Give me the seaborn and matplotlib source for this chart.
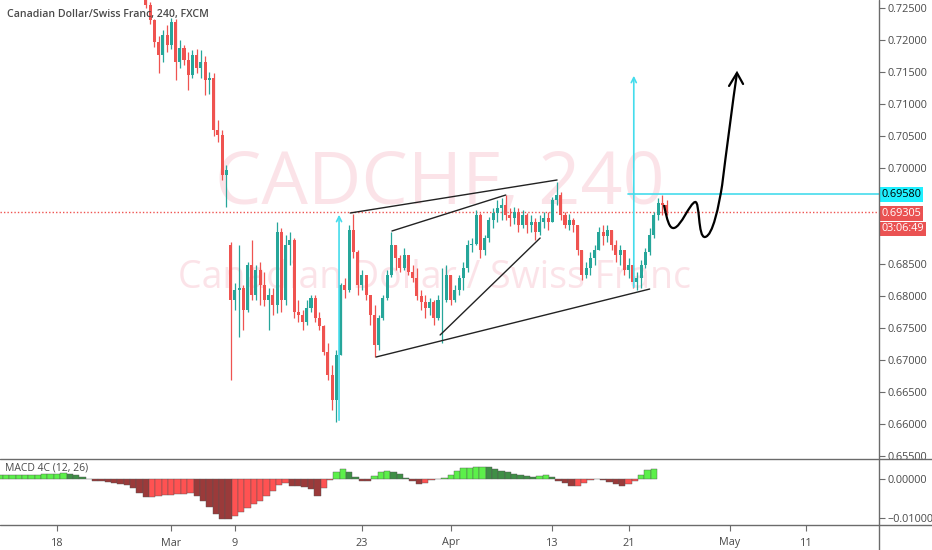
import numpy as np
import pandas as pd
import matplotlib
matplotlib.use('Agg')
import matplotlib.pyplot as plt
import seaborn as sns
from matplotlib.path import Path
from matplotlib.patches import PathPatch

sns.set_theme(style='white')
plt.rcParams['font.family'] = ['Open Sans', 'DejaVu Sans']

# ---- data: CADCHF 8h candles, first one on 2020-02-27 ----
first_open = 0.7270
gap_index = 20          # Monday 9 March opens with a gap
gap_open = 0.6879
closes = [
    0.7254, 0.7230, 0.7196, 0.7176, 0.7207, 0.7191, 0.7227, 0.7165, 0.7187, 0.7168,
    0.7145, 0.7176, 0.7155, 0.7165, 0.7137, 0.7140, 0.7059, 0.7051, 0.6988, 0.6996,
    0.6793, 0.6809, 0.6812, 0.6777, 0.6848, 0.6801, 0.6840, 0.6816, 0.6793, 0.6801,
    0.6785, 0.6899, 0.6793, 0.6879, 0.6887, 0.6774, 0.6770, 0.6759, 0.6780, 0.6796,
    0.6765, 0.6752, 0.6712, 0.6676, 0.6637, 0.6707, 0.6816, 0.6809, 0.6902, 0.6868,
    0.6816, 0.6832, 0.6801, 0.6770, 0.6723, 0.6765, 0.6796, 0.6832, 0.6879, 0.6859,
    0.6843, 0.6863, 0.6837, 0.6827, 0.6799, 0.6790, 0.6780, 0.6790, 0.6765, 0.6793,
    0.6793, 0.6832, 0.6793, 0.6809, 0.6827, 0.6843, 0.6879, 0.6880, 0.6926, 0.6871,
    0.6890, 0.6918, 0.6929, 0.6937, 0.6941, 0.6926, 0.6921, 0.6930, 0.6910, 0.6926,
    0.6910, 0.6915, 0.6899, 0.6915, 0.6921, 0.6915, 0.6949, 0.6957, 0.6926, 0.6910,
    0.6918, 0.6910, 0.6871, 0.6832, 0.6843, 0.6859, 0.6871, 0.6899, 0.6893, 0.6902,
    0.6879, 0.6863, 0.6871, 0.6840, 0.6848, 0.6821, 0.6827, 0.6848, 0.6868, 0.6895,
    0.6926, 0.6944, 0.6941, 0.6930,
]
highs = [
    0.7277, 0.7258, 0.7232, 0.7205, 0.7215, 0.7223, 0.7234, 0.7232, 0.7200, 0.7191,
    0.7180, 0.7184, 0.7185, 0.7184, 0.7175, 0.7150, 0.7148, 0.7074, 0.7058, 0.7004,
    0.6884, 0.6820, 0.6879, 0.6816, 0.6852, 0.6887, 0.6848, 0.6852, 0.6837, 0.6812,
    0.6812, 0.6915, 0.6906, 0.6895, 0.6899, 0.6890, 0.6793, 0.6777, 0.6793, 0.6801,
    0.6801, 0.6774, 0.6754, 0.6726, 0.6691, 0.6715, 0.6820, 0.6827, 0.6910, 0.6927,
    0.6871, 0.6840, 0.6832, 0.6796, 0.6785, 0.6770, 0.6801, 0.6840, 0.6899, 0.6879,
    0.6863, 0.6874, 0.6859, 0.6848, 0.6843, 0.6809, 0.6801, 0.6796, 0.6793, 0.6801,
    0.6843, 0.6848, 0.6824, 0.6816, 0.6832, 0.6852, 0.6887, 0.6890, 0.6934, 0.6929,
    0.6895, 0.6923, 0.6937, 0.6949, 0.6952, 0.6957, 0.6937, 0.6938, 0.6937, 0.6934,
    0.6929, 0.6926, 0.6921, 0.6926, 0.6930, 0.6930, 0.6954, 0.6977, 0.6962, 0.6930,
    0.6927, 0.6921, 0.6910, 0.6871, 0.6852, 0.6868, 0.6879, 0.6907, 0.6910, 0.6910,
    0.6902, 0.6887, 0.6879, 0.6863, 0.6859, 0.6843, 0.6837, 0.6855, 0.6874, 0.6906,
    0.6930, 0.6952, 0.6957, 0.6949,
]
lows = [
    0.7249, 0.7225, 0.7188, 0.7148, 0.7165, 0.7180, 0.7185, 0.7137, 0.7155, 0.7160,
    0.7121, 0.7140, 0.7148, 0.7140, 0.7113, 0.7115, 0.7050, 0.7040, 0.6980, 0.6938,
    0.6668, 0.6777, 0.6735, 0.6746, 0.6774, 0.6793, 0.6793, 0.6785, 0.6784, 0.6746,
    0.6770, 0.6773, 0.6774, 0.6785, 0.6848, 0.6765, 0.6759, 0.6746, 0.6754, 0.6774,
    0.6759, 0.6746, 0.6707, 0.6668, 0.6621, 0.6602, 0.6712, 0.6796, 0.6805, 0.6859,
    0.6801, 0.6809, 0.6793, 0.6754, 0.6704, 0.6715, 0.6762, 0.6793, 0.6829, 0.6840,
    0.6837, 0.6840, 0.6832, 0.6821, 0.6793, 0.6777, 0.6765, 0.6770, 0.6754, 0.6762,
    0.6726, 0.6790, 0.6785, 0.6790, 0.6801, 0.6809, 0.6837, 0.6868, 0.6879, 0.6859,
    0.6863, 0.6884, 0.6906, 0.6915, 0.6918, 0.6918, 0.6909, 0.6912, 0.6899, 0.6906,
    0.6898, 0.6899, 0.6887, 0.6895, 0.6906, 0.6902, 0.6915, 0.6941, 0.6918, 0.6906,
    0.6902, 0.6899, 0.6863, 0.6824, 0.6827, 0.6832, 0.6848, 0.6871, 0.6879, 0.6884,
    0.6871, 0.6852, 0.6848, 0.6832, 0.6827, 0.6812, 0.6809, 0.6812, 0.6843, 0.6863,
    0.6890, 0.6918, 0.6926, 0.6926,
]

# MACD 4C columns, one per 12h, starting 2020-02-11 noon
macd_hist = [
    0.0005, 0.0006, 0.0008, 0.0009, 0.0009, 0.0010, 0.0010, 0.0010, 0.0010, 0.0011,
    0.0012, 0.0013, 0.0014, 0.0013, 0.0010, 0.0004, -0.0002, -0.0005, -0.0007, -0.0009,
    -0.0012, -0.0014, -0.0017, -0.0024, -0.0036, -0.0048, -0.0046, -0.0044, -0.0042, -0.0041,
    -0.0040, -0.0039, -0.0037, -0.0045, -0.0056, -0.0072, -0.0090, -0.0102, -0.0104, -0.0096,
    -0.0086, -0.0076, -0.0066, -0.0056, -0.0045, -0.0032, -0.0016, -0.0012, -0.0018, -0.0019,
    -0.0021, -0.0027, -0.0044, -0.0025, -0.0004, 0.0018, 0.0025, 0.0016, 0.0005, -0.0005,
    -0.0006, 0.0006, 0.0016, 0.0019, 0.0018, 0.0011, 0.0002, -0.0007, -0.0013, -0.0010,
    -0.0004, -0.0002, 0.0002, 0.0010, 0.0020, 0.0027, 0.0028, 0.0029, 0.0030, 0.0029,
    0.0025, 0.0020, 0.0016, 0.0012, 0.0009, 0.0007, 0.0005, 0.0006, 0.0010, 0.0004,
    -0.0005, -0.0012, -0.0019, -0.0019, -0.0011, -0.0004, -0.0002, -0.0003, -0.0009, -0.0015,
    -0.0018, -0.0013, -0.0005, 0.0010, 0.0022, 0.0024,
]

tick_dates = ['2020-02-18', '2020-03-02', '2020-03-09', '2020-03-23', '2020-04-01',
              '2020-04-13', '2020-04-21', '2020-05-01', '2020-05-11']
tick_labels = ['18', 'Mar', '9', '23', 'Apr', '13', '21', 'May', '11']
price_ticks = np.arange(0.655, 0.7251, 0.005)
hidden_ticks = [0.690, 0.695]     # covered by the price labels
macd_ticks = [0.0, -0.01]

last_price = 0.69305
target_price = 0.69580
countdown = '03:06:49'

# hand drawn trend lines: (date, price) pairs
channel_top = [('2020-03-20 02:00', 0.69289), ('2020-04-13 09:00', 0.69805)]
channel_bottom = [('2020-03-24 03:00', 0.67039), ('2020-04-22 16:00', 0.68101)]
inner_top = [('2020-03-25 09:00', 0.69008), ('2020-04-07 08:00', 0.69570)]
inner_bottom = [('2020-03-31 04:00', 0.67383), ('2020-04-10 01:00', 0.68898)]
arrow_left = ('2020-03-19 05:00', 0.66008, 0.69305)
arrow_right = ('2020-04-21 10:00', 0.68086, 0.71477)
target_start = '2020-04-20 23:00'
# projected path (bezier anchors)
projection = [('2020-04-23 19:00', 0.69414), ('2020-04-24 01:00', 0.69180), ('2020-04-24 05:00', 0.69039),
              ('2020-04-24 14:00', 0.69055), ('2020-04-27 03:00', 0.69070), ('2020-04-27 20:00', 0.69445),
              ('2020-04-28 06:00', 0.69461), ('2020-04-28 15:00', 0.69477), ('2020-04-28 11:00', 0.68898),
              ('2020-04-29 00:30', 0.68914), ('2020-04-29 15:30', 0.68930), ('2020-04-30 03:00', 0.69414),
              ('2020-04-30 09:00', 0.69727), ('2020-04-30 16:00', 0.70195), ('2020-05-01 05:30', 0.71055),
              ('2020-05-01 13:00', 0.71477)]
projection_head = [('2020-04-30 22:00', 0.71274), ('2020-05-01 13:00', 0.71477), ('2020-05-04 00:30', 0.71305)]

# ---- trading-day axis ----
bdays = pd.bdate_range('2020-02-10', '2020-05-29')
origin = bdays.get_loc(pd.Timestamp(tick_dates[0]))


def day_of(stamp):
    ts = pd.Timestamp(stamp)
    d = bdays.get_loc(ts.normalize())
    return d - origin + (ts - ts.normalize()).total_seconds() / 86400


UP, DOWN = '#26a69a', '#ef5350'
CYAN = '#45dcec'
INK = '#4a4a4a'
LINE = '#6b6b6b'

fig = plt.figure(figsize=(9.32, 5.50), dpi=100)
ax = fig.add_axes([0, 1 - 459 / 550, 879 / 932, 459 / 550])
axm = fig.add_axes([0, 25 / 550, 879 / 932, 66 / 550], sharex=ax)

# candles
closes_a = np.array(closes)
opens = np.concatenate([[first_open], closes_a[:-1]])
opens[gap_index] = gap_open
highs_a = np.maximum(np.array(highs), np.maximum(opens, closes_a))
lows_a = np.minimum(np.array(lows), np.minimum(opens, closes_a))
cx = day_of('2020-02-27') + np.arange(len(closes)) / 3
colors = np.where(closes_a >= opens, UP, DOWN)
ax.vlines(cx, lows_a, highs_a, colors=colors, lw=0.9, zorder=3)
ax.bar(cx, np.maximum(np.abs(closes_a - opens), 0.00005), bottom=np.minimum(opens, closes_a),
       width=0.24, color=colors, linewidth=0, zorder=3)

# watermark
wm = dict(transform=ax.transAxes, ha='center', va='center', color='#f5a3b5', alpha=0.3, zorder=1)
ax.text(0.5, 0.597, 'CADCHF, 240', fontsize=53, **wm)
ax.text(0.494, 0.394, 'Canadian Dollar / Swiss Franc', fontsize=27, **wm)

# price lines
ax.axhline(last_price, color=DOWN, lw=1, ls=(0, (1, 1.5)), zorder=2)
ax.plot([day_of(target_start), 80], [target_price] * 2, color=CYAN, lw=1.2, zorder=4)

for x_s, lo, hi in (arrow_left, arrow_right):
    xd = day_of(x_s)
    ax.annotate('', xy=(xd, hi), xytext=(xd, lo),
                arrowprops=dict(arrowstyle='->', color=CYAN, lw=1.2, mutation_scale=9), zorder=4)

for seg in (channel_top, channel_bottom, inner_top, inner_bottom):
    ax.plot([day_of(s) for s, _ in seg], [p for _, p in seg], color='#222222', lw=1, zorder=4)

verts = [(day_of(s), p) for s, p in projection]
codes = [Path.MOVETO] + [Path.CURVE4] * (len(verts) - 1)
ax.add_patch(PathPatch(Path(verts, codes), fill=False, edgecolor='black', lw=1.6, zorder=5))
ax.plot([day_of(s) for s, _ in projection_head], [p for _, p in projection_head],
        color='black', lw=1.6, zorder=5, solid_joinstyle='miter')

ax.set_ylim(0.726172 - 459 / 6400, 0.726172)
ax.set_xlim(-57 / 12.7, 822 / 12.7)
ax.set_yticks(price_ticks)
ax.set_yticklabels(['' if any(abs(v - h) < 1e-6 for h in hidden_ticks) else f'{v:.5f}'
                    for v in price_ticks])

# MACD histogram
mx = day_of('2020-02-11') - 0.5 + 0.5 * np.arange(len(macd_hist))
mh = np.array(macd_hist)
prev = np.concatenate([[mh[0]], mh[:-1]])
mcol = np.where(mh > 0, np.where(mh >= prev, '#5cf04a', '#3f8f46'),
                np.where(mh < prev, '#9b3a3a', '#ff5252'))
axm.bar(mx, mh, width=0.5, color=mcol, edgecolor='#555555', linewidth=0.3, zorder=3)
axm.set_ylim(-0.011858, 0.005013)
axm.set_yticks(macd_ticks)
axm.set_yticklabels(['0.00000', '\u22120.01000'])
axm.text(0.006, 0.86, 'MACD 4C (12, 26)', transform=axm.transAxes, fontsize=7.5,
         color=INK, va='center', zorder=5)

xt = [day_of(d) for d in tick_dates]
axm.set_xticks(xt)
axm.set_xticklabels(tick_labels)

for a in (ax, axm):
    a.yaxis.tick_right()
    a.tick_params(axis='y', right=True, length=4, width=0.8, color=LINE, labelsize=7.8,
                  labelcolor=INK, pad=2)
    for sp in a.spines.values():
        sp.set_visible(False)
    a.set_facecolor('white')
ax.tick_params(axis='x', bottom=False, labelbottom=False)
axm.tick_params(axis='x', bottom=True, length=4, width=0.8, color=LINE, labelsize=7.8,
                labelcolor=INK, pad=5)

# separators
for yy in (459, 525):
    fig.add_artist(plt.Line2D([0, 1], [1 - yy / 550] * 2, color=LINE, lw=1))
fig.add_artist(plt.Line2D([879 / 932] * 2, [0, 1], color=LINE, lw=1))

# title
ax.text(0.008, 0.968, 'Canadian Dollar/Swiss Franc, 240, FXCM', transform=ax.transAxes,
        fontsize=7.6, color=INK, va='center', fontweight='semibold', zorder=6)

# right-axis price labels
box = dict(boxstyle='square,pad=0.16', lw=0)
ax.annotate(f'{target_price:.5f}', xy=(1.0, target_price), xycoords=('axes fraction', 'data'),
            xytext=(2, 0), textcoords='offset points', fontsize=7.8, color='black', va='center',
            bbox=dict(box, fc='#1ff0ff'), annotation_clip=False, zorder=7)
ax.annotate(f'{last_price:.5f}', xy=(1.0, last_price), xycoords=('axes fraction', 'data'),
            xytext=(2, -1), textcoords='offset points', fontsize=7.8, color='white', va='center',
            bbox=dict(box, fc='#ea5252'), annotation_clip=False, zorder=7)
ax.annotate(countdown, xy=(1.0, last_price), xycoords=('axes fraction', 'data'),
            xytext=(2, -12.2), textcoords='offset points', fontsize=7.8, color='white', va='center',
            bbox=dict(box, fc='#ea5252'), annotation_clip=False, zorder=7)

fig.savefig('out.png', dpi=100, facecolor='white')
